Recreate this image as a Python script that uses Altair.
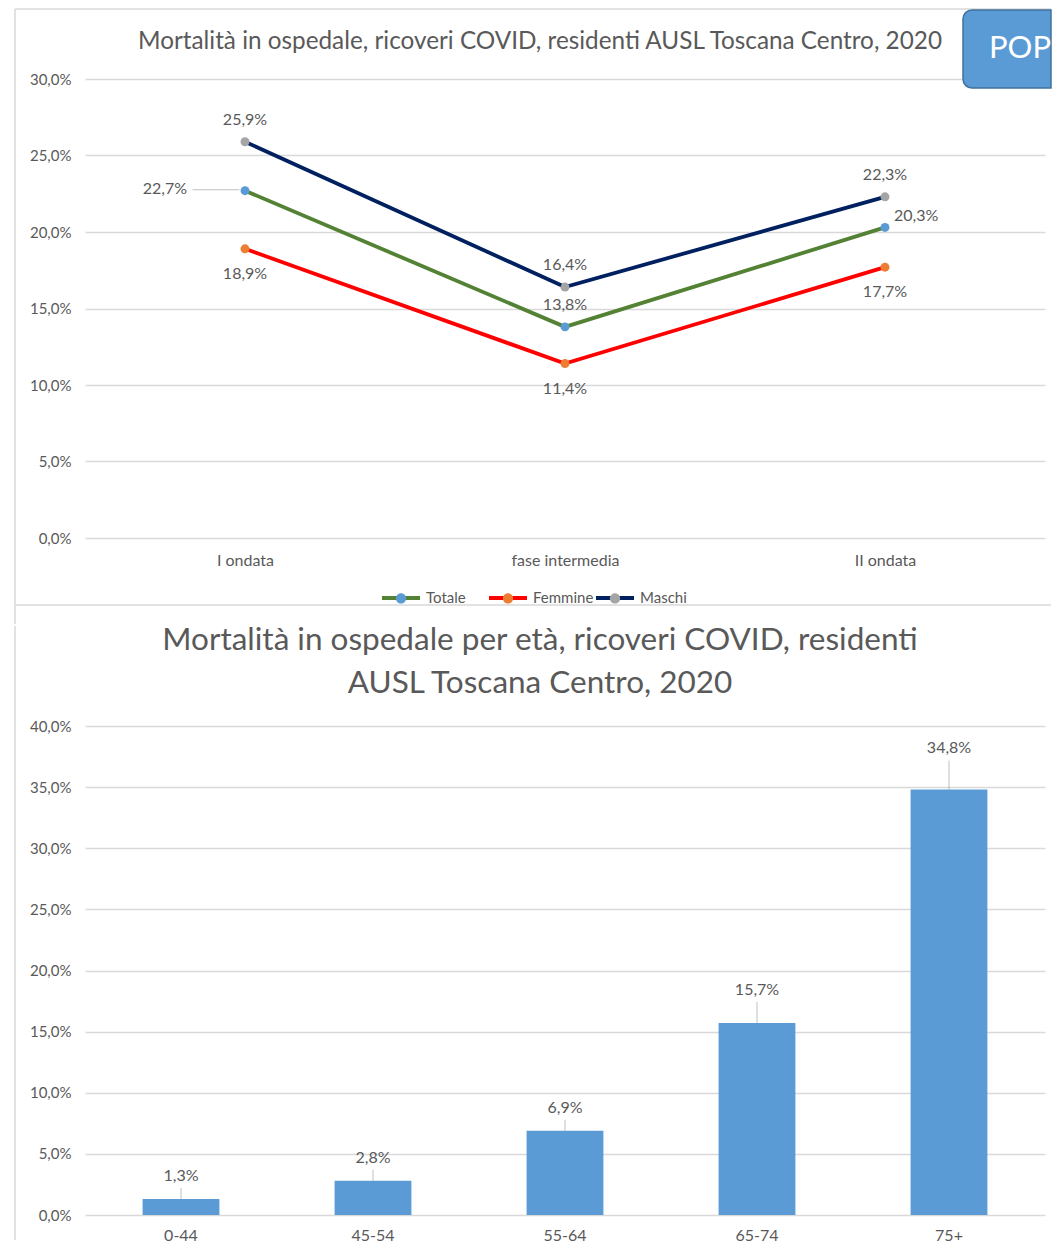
import altair as alt
import pandas as pd

# ---------------- data ----------------
phases = ["I ondata", "fase intermedia", "II ondata"]
series = ["Totale", "Femmine", "Maschi"]
totale = [0.227, 0.138, 0.203]
femmine = [0.189, 0.114, 0.177]
maschi = [0.259, 0.164, 0.223]

ages = ["0-44", "45-54", "55-64", "65-74", "75+"]
age_rates = [0.013, 0.028, 0.069, 0.157, 0.348]

y_ticks_top = [0, 0.05, 0.10, 0.15, 0.20, 0.25, 0.30]
y_ticks_bottom = [0, 0.05, 0.10, 0.15, 0.20, 0.25, 0.30, 0.35, 0.40]

title_top = "Mortalità in ospedale, ricoveri COVID, residenti AUSL Toscana Centro, 2020"
title_bottom_1 = "Mortalità in ospedale per età, ricoveri COVID, residenti"
title_bottom_2 = "AUSL Toscana Centro, 2020"
button_text = "POP"

# ---------------- styles ----------------
FONT = "Lato"
TXT = "#595959"
GRID = "#D9D9D9"
line_colors = ["#548235", "#FF0000", "#002060"]
point_colors = ["#5B9BD5", "#ED7D31", "#A5A5A5"]
bar_color = "#5B9BD5"
LEADER = "#A6A6A6"

rows = []
for s, vals in zip(series, [totale, femmine, maschi]):
    for p, v in zip(phases, vals):
        rows.append({"phase": p, "series": s, "value": v})
df_lines = pd.DataFrame(rows)
df_bars = pd.DataFrame({"age": ages, "rate": age_rates})
one = pd.DataFrame({"k": [0]})

label_expr = "replace(format(datum.value, '.1%'), '.', ',')"

W = 960
H_TOP = 459
H_BOT = 489
RIGHT = 966  # right end of decorations, kept inside the page

# ---------------- top chart ----------------
x_top = alt.X("phase:N", sort=phases,
              scale=alt.Scale(type="point", padding=0.5, domain=phases),
              axis=alt.Axis(title=None, domain=False, ticks=False, labelAngle=0,
                            labelPadding=14, labelFontSize=16, labelColor=TXT, labelFont=FONT))
y_top = alt.Y("value:Q", scale=alt.Scale(domain=[0, 0.30], nice=False),
              axis=alt.Axis(title=None, domain=False, ticks=False, values=y_ticks_top,
                            labelExpr=label_expr, labelPadding=14, labelFontSize=15,
                            labelColor=TXT, labelFont=FONT, gridColor=GRID, gridWidth=1.4))

base_top = alt.Chart(df_lines)

legend_common = dict(title=None, orient="none", direction="horizontal", columns=3,
                     gridAlign="all", legendX=295, legendY=498, symbolSize=1444,
                     symbolStrokeWidth=4, labelFontSize=15, labelFont=FONT, labelOffset=4,
                     padding=0)

lines = base_top.mark_line(strokeWidth=3.8).encode(
    x=x_top, y=y_top,
    color=alt.Color("series:N", sort=series,
                    scale=alt.Scale(domain=series, range=line_colors),
                    legend=alt.Legend(symbolType="stroke", labelColor=TXT, zindex=0,
                                      columnPadding=-10, **legend_common)),
)

circle_path = "M -0.27,0 A 0.27,0.27 0 1,1 0.27,0 A 0.27,0.27 0 1,1 -0.27,0 Z"
points = base_top.mark_circle(size=80, opacity=1).encode(
    x=x_top, y=y_top,
    fill=alt.Fill("series:N", sort=series,
                  scale=alt.Scale(domain=series, range=point_colors),
                  legend=alt.Legend(symbolType=circle_path, symbolStrokeColor="transparent",
                                    symbolOpacity=1, labelColor="transparent", zindex=1,
                                    columnPadding=-4, **legend_common)),
)

lbl = base_top.transform_calculate(lab=label_expr)
txt_kw = dict(fontSize=16, color=TXT, font=FONT, baseline="middle")

lbl_above = lbl.transform_filter(
    "datum.series == 'Maschi' || (datum.series == 'Totale' && datum.phase == 'fase intermedia')"
).mark_text(dy=-22, align="center", **txt_kw).encode(x=x_top, y=y_top, text="lab:N")
lbl_below = lbl.transform_filter("datum.series == 'Femmine'").mark_text(
    dy=25, align="center", **txt_kw).encode(x=x_top, y=y_top, text="lab:N")
lbl_left = lbl.transform_filter("datum.series == 'Totale' && datum.phase == 'I ondata'").mark_text(
    dx=-58, dy=-2, align="right", **txt_kw).encode(x=x_top, y=y_top, text="lab:N")
lbl_right = lbl.transform_filter("datum.series == 'Totale' && datum.phase == 'II ondata'").mark_text(
    dx=9, dy=-11, align="left", **txt_kw).encode(x=x_top, y=y_top, text="lab:N")
leader_left = base_top.transform_filter(
    "datum.series == 'Totale' && datum.phase == 'I ondata'"
).mark_tick(orient="horizontal", size=47, thickness=1, color=LEADER, xOffset=-29, yOffset=-1).encode(
    x=x_top, y=y_top)

# frame lines, titles and POP button (decorations)
deco = alt.Chart(one)
frame_top = deco.mark_rule(color=GRID, strokeWidth=1.5).encode(
    x=alt.value(-70), x2=alt.value(RIGHT), y=alt.value(-70))
frame_left = deco.mark_rule(color=GRID, strokeWidth=1.5).encode(
    x=alt.value(-70), y=alt.value(-70), y2=alt.value(545))
frame_bottom = deco.mark_rule(color=GRID, strokeWidth=1.5).encode(
    x=alt.value(-70), x2=alt.value(RIGHT), y=alt.value(526))
button = deco.mark_rect(color="#5B9BD5", stroke="#41719C", strokeWidth=1.5,
                        cornerRadiusTopLeft=9, cornerRadiusBottomLeft=9).encode(
    x=alt.value(878), x2=alt.value(RIGHT), y=alt.value(-69), y2=alt.value(9))
button_txt = deco.mark_text(text=button_text, color="white", fontSize=31, font=FONT,
                            align="left", baseline="middle").encode(
    x=alt.value(904), y=alt.value(-30))
title_top_mark = deco.mark_text(text=title_top, color=TXT, fontSize=24.3, font=FONT,
                                align="center", baseline="middle").encode(
    x=alt.value(455), y=alt.value(-37))

top = alt.layer(
    frame_top, frame_left, frame_bottom, title_top_mark,
    lines, points, leader_left, lbl_above, lbl_below, lbl_left, lbl_right,
    button, button_txt,
).resolve_scale(color="independent", fill="independent").properties(
    width=W, height=H_TOP,
)

# ---------------- bottom chart ----------------
x_bot = alt.X("age:N", sort=ages,
              scale=alt.Scale(type="band", domain=ages, paddingInner=0.6, paddingOuter=0.3),
              axis=alt.Axis(title=None, domain=False, ticks=False, labelAngle=0,
                            labelPadding=12, labelFontSize=16, labelColor=TXT, labelFont=FONT))
y_bot = alt.Y("rate:Q", scale=alt.Scale(domain=[0, 0.40], nice=False),
              axis=alt.Axis(title=None, domain=False, ticks=False, values=y_ticks_bottom,
                            labelExpr=label_expr, labelPadding=14, labelFontSize=15,
                            labelColor=TXT, labelFont=FONT, gridColor=GRID, gridWidth=1.4))

base_bot = alt.Chart(df_bars)
bars = base_bot.mark_bar(color=bar_color).encode(x=x_bot, y=y_bot)


def bar_labels(filter_expr, dy, leader):
    lab = base_bot.transform_filter(filter_expr).transform_calculate(
        lab="replace(format(datum.rate, '.1%'), '.', ',')"
    ).mark_text(dy=dy, fontSize=16, color=TXT, font=FONT, baseline="middle").encode(
        x=x_bot, y=y_bot, text="lab:N")
    tick = base_bot.transform_filter(filter_expr).mark_tick(
        orient="vertical", size=leader, thickness=1, color=LEADER, yOffset=-leader / 2
    ).encode(x=x_bot, y=y_bot)
    return [tick, lab]


small = "datum.age == '0-44' || datum.age == '45-54' || datum.age == '55-64'"
bot_layers = [bars]
bot_layers += bar_labels(small, -23, 11)
bot_layers += bar_labels("datum.age == '65-74'", -33, 21)
bot_layers += bar_labels("datum.age == '75+'", -42, 29)

frame_left2 = deco.mark_rule(color=GRID, strokeWidth=1.5).encode(
    x=alt.value(-70), y=alt.value(-100), y2=alt.value(514))
title_b1 = deco.mark_text(text=title_bottom_1, color=TXT, fontSize=31.5, font=FONT,
                          align="center", baseline="middle").encode(
    x=alt.value(455), y=alt.value(-85))
title_b2 = deco.mark_text(text=title_bottom_2, color=TXT, fontSize=31.5, font=FONT,
                          align="center", baseline="middle").encode(
    x=alt.value(455), y=alt.value(-42))

bottom = alt.layer(frame_left2, title_b1, title_b2, *bot_layers).properties(
    width=W, height=H_BOT,
)

chart = alt.vconcat(top, bottom, spacing=0).resolve_scale(
    x="independent", y="independent"
).properties(
    padding={"left": 6, "top": 0, "right": 0, "bottom": 0}, background="white"
).configure(font=FONT).configure_view(strokeWidth=0, stroke="transparent")

chart.save("out.html", embed_options={"renderer": "svg", "actions": False})
